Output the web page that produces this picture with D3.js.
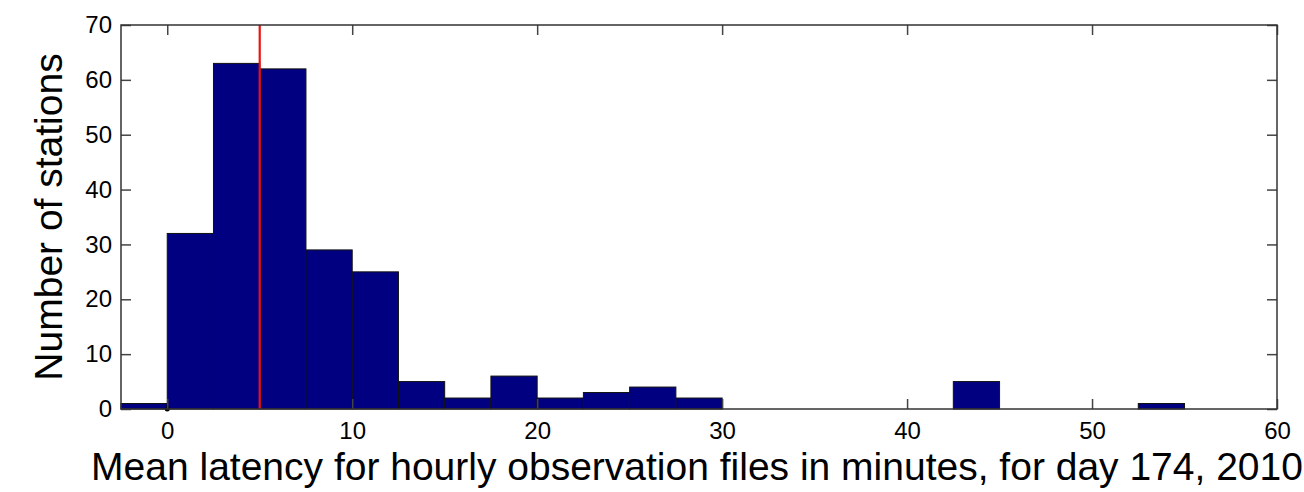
<!DOCTYPE html>
<html>
<head>
<meta charset="utf-8">
<script src="https://cdn.jsdelivr.net/npm/d3@7"></script>
<style>
  body { margin: 0; background: #fff; }
  text { font-family: "Liberation Sans", Arial, Helvetica, sans-serif; fill: #000; }
</style>
</head>
<body>
<div id="chart"></div>
<script>
const width = 1304;
const height = 492;

// histogram bins (left edge, minutes) and counts
const binStart = [-2.5, 0, 2.5, 5, 7.5, 10, 12.5, 15, 17.5, 20, 22.5, 25, 27.5, 30, 32.5, 35, 37.5, 40, 42.5, 45, 47.5, 50, 52.5, 55];
const counts = [1, 32, 63, 62, 29, 25, 5, 2, 6, 2, 3, 4, 2, 0, 0, 0, 0, 0, 5, 0, 0, 0, 1, 0];
const binWidth = 2.5;
const meanLatency = 5;

const xTicks = [0, 10, 20, 30, 40, 50, 60];
const yTicks = [0, 10, 20, 30, 40, 50, 60, 70];

const margin = { top: 25, right: 27, bottom: 83, left: 121 };
const w = width - margin.left - margin.right;
const h = height - margin.top - margin.bottom;
const tickLen = 10;

const bins = binStart.map((s, i) => ({ x0: s, x1: s + binWidth, n: counts[i] }));

var svg = d3.select("#chart").append("svg")
  .attr("width", width)
  .attr("height", height);

var g = svg.append("g")
  .attr("transform", "translate(" + margin.left + "," + margin.top + ")");

var x = d3.scaleLinear().domain([-2.5, 60]).range([0, w]);
var y = d3.scaleLinear().domain([0, 70]).range([h, 0]);

// bars
g.selectAll("rect.bar").data(bins).enter().append("rect")
  .attr("class", "bar")
  .attr("x", (d) => x(d.x0))
  .attr("y", (d) => y(d.n))
  .attr("width", (d) => x(d.x1) - x(d.x0))
  .attr("height", (d) => y(0) - y(d.n))
  .style("fill", "#000080")
  .style("stroke", "#111")
  .style("stroke-width", 1);

// small marker at origin (as in original)
g.append("circle")
  .attr("cx", x(0))
  .attr("cy", y(0))
  .attr("r", 2.5)
  .style("fill", "#000");

// mean line
g.append("line")
  .attr("x1", x(meanLatency)).attr("x2", x(meanLatency))
  .attr("y1", y(70)).attr("y2", y(0))
  .style("stroke", "#ee1111")
  .style("stroke-width", 2.2);

// axes: ticks inside, mirrored on all sides
var xBottom = d3.axisBottom(x).tickValues(xTicks).tickSize(-tickLen).tickPadding(13).tickFormat(d3.format("d"));
var xTop = d3.axisTop(x).tickValues(xTicks).tickSize(-tickLen).tickFormat("");
var yLeft = d3.axisLeft(y).tickValues(yTicks).tickSize(-tickLen).tickPadding(9).tickFormat(d3.format("d"));
var yRight = d3.axisRight(y).tickValues(yTicks).tickSize(-tickLen).tickFormat("");

function styleAxis(sel) {
  sel.select(".domain").remove();
  sel.selectAll(".tick line").style("stroke", "#444").style("stroke-width", 1.5);
  sel.selectAll(".tick text").style("font-size", "24px").style("fill", "#000");
}

g.append("g").attr("transform", "translate(0," + h + ")").call(xBottom).call(styleAxis);
g.append("g").call(xTop).call(styleAxis);
g.append("g").call(yLeft).call(styleAxis);
g.append("g").attr("transform", "translate(" + w + ",0)").call(yRight).call(styleAxis);

// frame
g.append("rect")
  .attr("x", 0).attr("y", 0)
  .attr("width", w).attr("height", h)
  .style("fill", "none")
  .style("stroke", "#333")
  .style("stroke-width", 1.5);

// axis labels
svg.append("text")
  .attr("x", 697)
  .attr("y", 480)
  .attr("text-anchor", "middle")
  .style("font-size", "39px")
  .text("Mean latency for hourly observation files in minutes, for day 174, 2010");

svg.append("text")
  .attr("transform", "translate(62,217) rotate(-90)")
  .attr("text-anchor", "middle")
  .style("font-size", "39px")
  .text("Number of stations");
</script>
</body>
</html>
